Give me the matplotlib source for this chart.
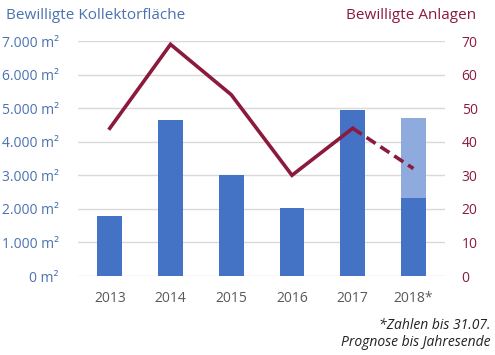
import matplotlib
matplotlib.use("Agg")
import matplotlib.pyplot as plt
import numpy as np

years = ["2013", "2014", "2015", "2016", "2017", "2018*"]
area_actual = [1790, 4650, 3000, 2030, 4940, 2330]
area_forecast_total = [None, None, None, None, None, 4700]
plants = [44, 69, 54, 30, 44]
plants_forecast = [44, 32]  # 2017 -> 2018 forecast

left_ticks = [0, 1000, 2000, 3000, 4000, 5000, 6000, 7000]
left_labels = ["0 m²", "1.000 m²", "2.000 m²", "3.000 m²", "4.000 m²", "5.000 m²", "6.000 m²", "7.000 m²"]
right_ticks = [0, 10, 20, 30, 40, 50, 60, 70]

plt.rcParams['font.family'] = ['Open Sans', 'DejaVu Sans']

bar_c = "#4472C4"
light_c = "#8FAADC"
line_c = "#8B1A3C"
blue_txt = "#4A72B0"
red_txt = "#8B1A3C"

fig = plt.figure(figsize=(4.95, 3.55), dpi=100)
ax = fig.add_axes([0.158, 0.2225, 0.741, 0.662])
x = np.arange(len(years))

fc_x = [i for i, v in enumerate(area_forecast_total) if v is not None]
fc_v = [v for v in area_forecast_total if v is not None]
ax.bar(fc_x, fc_v, width=0.41, color=light_c, zorder=2)
ax.bar(x, area_actual, width=0.41, color=bar_c, zorder=3)

ax.set_ylim(0, 7000)
ax.set_xlim(-0.52, 5.52)
ax.set_yticks(left_ticks)
ax.set_yticklabels(left_labels)
ax.set_xticks(x)
ax.set_xticklabels(years)
ax.grid(axis='y', color="#D9D9D9", linewidth=1, zorder=0)
ax.set_axisbelow(True)
for s in ax.spines.values():
    s.set_visible(False)
ax.tick_params(axis='y', length=0, labelsize=10, labelcolor=blue_txt, pad=14)
ax.tick_params(axis='x', length=0, labelsize=10, labelcolor="#595959", pad=11)

ax2 = ax.twinx()
ax2.set_ylim(0, 70)
ax2.set_yticks(right_ticks)
for s in ax2.spines.values():
    s.set_visible(False)
ax2.tick_params(axis='y', length=0, labelsize=10, labelcolor=red_txt, pad=12)
ax2.plot(x[:5], plants, color=line_c, linewidth=2.6, solid_joinstyle='miter', zorder=5)
ax2.plot(x[4:6], plants_forecast, color=line_c, linewidth=2.6, linestyle=(0, (3, 1.6)), zorder=5)

fig.text(0.012, 0.955, "Bewilligte Kollektorfläche", color=blue_txt, fontsize=11, ha='left', va='center')
fig.text(0.962, 0.955, "Bewilligte Anlagen", color=red_txt, fontsize=11, ha='right', va='center')
fig.text(0.99, 0.083, "*Zahlen bis 31.07.", color="#222222", fontsize=10, style='italic', ha='right', va='center')
fig.text(0.99, 0.036, "Prognose bis Jahresende", color="#222222", fontsize=10, style='italic', ha='right', va='center')

fig.savefig("out.png", dpi=100)
